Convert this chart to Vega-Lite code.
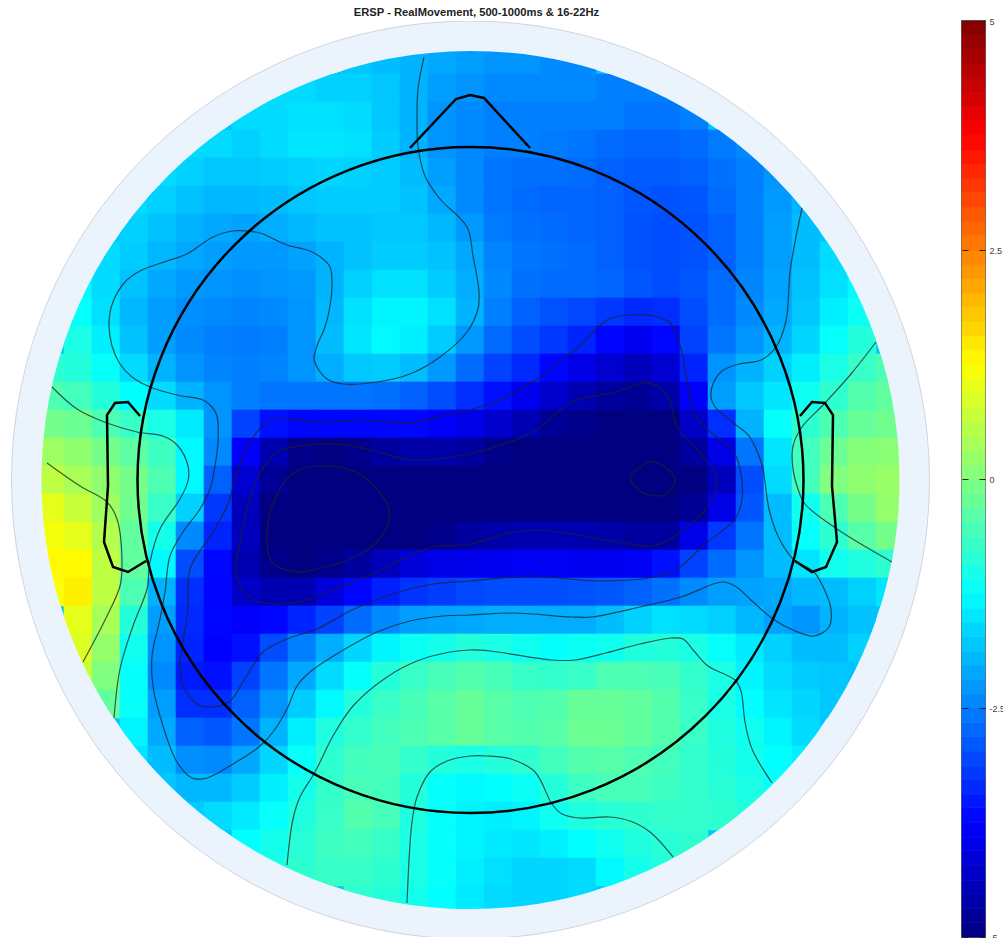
{"$schema":"https://vega.github.io/schema/vega-lite/v6.json","background":"white","padding":{"left":0,"top":6,"right":0,"bottom":0},"spacing":15,"config":{"view":{"stroke":null}},
"datasets":{"center":[{"x":470.5,"y":481}],
"cells":[
{"x":358,"y":61,"v":-1.8},{"x":386,"y":61,"v":-1.9},{"x":414,"y":61,"v":-2.0},{"x":442,"y":61,"v":-2.1},{"x":470,"y":61,"v":-2.2},{"x":498,"y":61,"v":-2.3},{"x":526,"y":61,"v":-2.3},{"x":554,"y":61,"v":-2.4},{"x":582,"y":61,"v":-2.4},
{"x":274,"y":89,"v":-1.6},{"x":302,"y":89,"v":-1.6},{"x":330,"y":89,"v":-1.7},{"x":358,"y":89,"v":-1.7},{"x":386,"y":89,"v":-1.8},{"x":414,"y":89,"v":-2.0},{"x":442,"y":89,"v":-2.2},{"x":470,"y":89,"v":-2.3},{"x":498,"y":89,"v":-2.4},{"x":526,"y":89,"v":-2.4},{"x":554,"y":89,"v":-2.4},{"x":582,"y":89,"v":-2.4},{"x":610,"y":89,"v":-2.5},{"x":638,"y":89,"v":-2.5},{"x":666,"y":89,"v":-2.5},
{"x":246,"y":117,"v":-1.6},{"x":274,"y":117,"v":-1.6},{"x":302,"y":117,"v":-1.55},{"x":330,"y":117,"v":-1.55},{"x":358,"y":117,"v":-1.6},{"x":386,"y":117,"v":-1.8},{"x":414,"y":117,"v":-2.0},{"x":442,"y":117,"v":-2.3},{"x":470,"y":117,"v":-2.4},{"x":498,"y":117,"v":-2.5},{"x":526,"y":117,"v":-2.5},{"x":554,"y":117,"v":-2.5},{"x":582,"y":117,"v":-2.5},{"x":610,"y":117,"v":-2.5},{"x":638,"y":117,"v":-2.6},{"x":666,"y":117,"v":-2.6},{"x":694,"y":117,"v":-2.5},
{"x":190,"y":145,"v":-1.6},{"x":218,"y":145,"v":-1.6},{"x":246,"y":145,"v":-1.7},{"x":274,"y":145,"v":-1.6},{"x":302,"y":145,"v":-1.5},{"x":330,"y":145,"v":-1.5},{"x":358,"y":145,"v":-1.55},{"x":386,"y":145,"v":-1.75},{"x":414,"y":145,"v":-2.0},{"x":442,"y":145,"v":-2.3},{"x":470,"y":145,"v":-2.4},{"x":498,"y":145,"v":-2.5},{"x":526,"y":145,"v":-2.5},{"x":554,"y":145,"v":-2.55},{"x":582,"y":145,"v":-2.6},{"x":610,"y":145,"v":-2.7},{"x":638,"y":145,"v":-2.75},{"x":666,"y":145,"v":-2.75},{"x":694,"y":145,"v":-2.7},{"x":722,"y":145,"v":-2.55},{"x":750,"y":145,"v":-2.4},
{"x":162,"y":173,"v":-1.6},{"x":190,"y":173,"v":-1.7},{"x":218,"y":173,"v":-1.8},{"x":246,"y":173,"v":-1.8},{"x":274,"y":173,"v":-1.75},{"x":302,"y":173,"v":-1.7},{"x":330,"y":173,"v":-1.65},{"x":358,"y":173,"v":-1.7},{"x":386,"y":173,"v":-1.75},{"x":414,"y":173,"v":-1.9},{"x":442,"y":173,"v":-2.2},{"x":470,"y":173,"v":-2.4},{"x":498,"y":173,"v":-2.6},{"x":526,"y":173,"v":-2.65},{"x":554,"y":173,"v":-2.65},{"x":582,"y":173,"v":-2.7},{"x":610,"y":173,"v":-2.8},{"x":638,"y":173,"v":-2.85},{"x":666,"y":173,"v":-2.85},{"x":694,"y":173,"v":-2.8},{"x":722,"y":173,"v":-2.65},{"x":750,"y":173,"v":-2.5},{"x":778,"y":173,"v":-2.3},
{"x":134,"y":201,"v":-1.6},{"x":162,"y":201,"v":-1.7},{"x":190,"y":201,"v":-1.85},{"x":218,"y":201,"v":-1.95},{"x":246,"y":201,"v":-1.95},{"x":274,"y":201,"v":-1.9},{"x":302,"y":201,"v":-1.8},{"x":330,"y":201,"v":-1.75},{"x":358,"y":201,"v":-1.75},{"x":386,"y":201,"v":-1.75},{"x":414,"y":201,"v":-1.85},{"x":442,"y":201,"v":-2.1},{"x":470,"y":201,"v":-2.4},{"x":498,"y":201,"v":-2.6},{"x":526,"y":201,"v":-2.7},{"x":554,"y":201,"v":-2.75},{"x":582,"y":201,"v":-2.75},{"x":610,"y":201,"v":-2.8},{"x":638,"y":201,"v":-2.9},{"x":666,"y":201,"v":-2.95},{"x":694,"y":201,"v":-2.9},{"x":722,"y":201,"v":-2.7},{"x":750,"y":201,"v":-2.5},{"x":778,"y":201,"v":-2.25},{"x":806,"y":201,"v":-2.0},
{"x":134,"y":229,"v":-1.7},{"x":162,"y":229,"v":-1.85},{"x":190,"y":229,"v":-2.0},{"x":218,"y":229,"v":-2.1},{"x":246,"y":229,"v":-2.15},{"x":274,"y":229,"v":-2.05},{"x":302,"y":229,"v":-1.95},{"x":330,"y":229,"v":-1.85},{"x":358,"y":229,"v":-1.85},{"x":386,"y":229,"v":-1.8},{"x":414,"y":229,"v":-1.8},{"x":442,"y":229,"v":-1.95},{"x":470,"y":229,"v":-2.25},{"x":498,"y":229,"v":-2.55},{"x":526,"y":229,"v":-2.65},{"x":554,"y":229,"v":-2.7},{"x":582,"y":229,"v":-2.75},{"x":610,"y":229,"v":-2.8},{"x":638,"y":229,"v":-2.95},{"x":666,"y":229,"v":-3.0},{"x":694,"y":229,"v":-2.95},{"x":722,"y":229,"v":-2.8},{"x":750,"y":229,"v":-2.5},{"x":778,"y":229,"v":-2.2},{"x":806,"y":229,"v":-1.9},
{"x":106,"y":257,"v":-1.6},{"x":134,"y":257,"v":-1.75},{"x":162,"y":257,"v":-1.95},{"x":190,"y":257,"v":-2.1},{"x":218,"y":257,"v":-2.2},{"x":246,"y":257,"v":-2.25},{"x":274,"y":257,"v":-2.25},{"x":302,"y":257,"v":-2.15},{"x":330,"y":257,"v":-2.0},{"x":358,"y":257,"v":-1.85},{"x":386,"y":257,"v":-1.75},{"x":414,"y":257,"v":-1.75},{"x":442,"y":257,"v":-1.85},{"x":470,"y":257,"v":-2.1},{"x":498,"y":257,"v":-2.45},{"x":526,"y":257,"v":-2.6},{"x":554,"y":257,"v":-2.65},{"x":582,"y":257,"v":-2.7},{"x":610,"y":257,"v":-2.8},{"x":638,"y":257,"v":-2.95},{"x":666,"y":257,"v":-3.0},{"x":694,"y":257,"v":-2.95},{"x":722,"y":257,"v":-2.8},{"x":750,"y":257,"v":-2.5},{"x":778,"y":257,"v":-2.2},{"x":806,"y":257,"v":-1.9},{"x":834,"y":257,"v":-1.6},
{"x":78,"y":285,"v":-1.3},{"x":106,"y":285,"v":-1.6},{"x":134,"y":285,"v":-1.85},{"x":162,"y":285,"v":-2.1},{"x":190,"y":285,"v":-2.25},{"x":218,"y":285,"v":-2.3},{"x":246,"y":285,"v":-2.35},{"x":274,"y":285,"v":-2.3},{"x":302,"y":285,"v":-2.25},{"x":330,"y":285,"v":-2.0},{"x":358,"y":285,"v":-1.7},{"x":386,"y":285,"v":-1.55},{"x":414,"y":285,"v":-1.55},{"x":442,"y":285,"v":-1.75},{"x":470,"y":285,"v":-2.05},{"x":498,"y":285,"v":-2.4},{"x":526,"y":285,"v":-2.65},{"x":554,"y":285,"v":-2.7},{"x":582,"y":285,"v":-2.7},{"x":610,"y":285,"v":-2.75},{"x":638,"y":285,"v":-2.9},{"x":666,"y":285,"v":-3.0},{"x":694,"y":285,"v":-2.9},{"x":722,"y":285,"v":-2.7},{"x":750,"y":285,"v":-2.45},{"x":778,"y":285,"v":-2.15},{"x":806,"y":285,"v":-1.85},{"x":834,"y":285,"v":-1.55},{"x":862,"y":285,"v":-1.3},
{"x":78,"y":313,"v":-1.2},{"x":106,"y":313,"v":-1.55},{"x":134,"y":313,"v":-1.95},{"x":162,"y":313,"v":-2.2},{"x":190,"y":313,"v":-2.35},{"x":218,"y":313,"v":-2.4},{"x":246,"y":313,"v":-2.45},{"x":274,"y":313,"v":-2.4},{"x":302,"y":313,"v":-2.3},{"x":330,"y":313,"v":-1.95},{"x":358,"y":313,"v":-1.55},{"x":386,"y":313,"v":-1.35},{"x":414,"y":313,"v":-1.35},{"x":442,"y":313,"v":-1.55},{"x":470,"y":313,"v":-2.0},{"x":498,"y":313,"v":-2.5},{"x":526,"y":313,"v":-2.8},{"x":554,"y":313,"v":-2.95},{"x":582,"y":313,"v":-3.05},{"x":610,"y":313,"v":-3.2},{"x":638,"y":313,"v":-3.35},{"x":666,"y":313,"v":-3.3},{"x":694,"y":313,"v":-3.0},{"x":722,"y":313,"v":-2.7},{"x":750,"y":313,"v":-2.4},{"x":778,"y":313,"v":-2.1},{"x":806,"y":313,"v":-1.8},{"x":834,"y":313,"v":-1.4},{"x":862,"y":313,"v":-1.15},
{"x":78,"y":341,"v":-1.0},{"x":106,"y":341,"v":-1.4},{"x":134,"y":341,"v":-1.85},{"x":162,"y":341,"v":-2.2},{"x":190,"y":341,"v":-2.4},{"x":218,"y":341,"v":-2.5},{"x":246,"y":341,"v":-2.55},{"x":274,"y":341,"v":-2.5},{"x":302,"y":341,"v":-2.3},{"x":330,"y":341,"v":-1.9},{"x":358,"y":341,"v":-1.5},{"x":386,"y":341,"v":-1.3},{"x":414,"y":341,"v":-1.4},{"x":442,"y":341,"v":-1.75},{"x":470,"y":341,"v":-2.25},{"x":498,"y":341,"v":-2.7},{"x":526,"y":341,"v":-3.0},{"x":554,"y":341,"v":-3.2},{"x":582,"y":341,"v":-3.4},{"x":610,"y":341,"v":-3.7},{"x":638,"y":341,"v":-3.9},{"x":666,"y":341,"v":-3.7},{"x":694,"y":341,"v":-3.1},{"x":722,"y":341,"v":-2.6},{"x":750,"y":341,"v":-2.3},{"x":778,"y":341,"v":-2.0},{"x":806,"y":341,"v":-1.65},{"x":834,"y":341,"v":-1.2},{"x":862,"y":341,"v":-0.9},
{"x":50,"y":369,"v":-0.8},{"x":78,"y":369,"v":-0.9},{"x":106,"y":369,"v":-1.2},{"x":134,"y":369,"v":-1.6},{"x":162,"y":369,"v":-2.0},{"x":190,"y":369,"v":-2.3},{"x":218,"y":369,"v":-2.45},{"x":246,"y":369,"v":-2.5},{"x":274,"y":369,"v":-2.45},{"x":302,"y":369,"v":-2.3},{"x":330,"y":369,"v":-2.05},{"x":358,"y":369,"v":-1.8},{"x":386,"y":369,"v":-1.75},{"x":414,"y":369,"v":-1.9},{"x":442,"y":369,"v":-2.25},{"x":470,"y":369,"v":-2.7},{"x":498,"y":369,"v":-3.1},{"x":526,"y":369,"v":-3.35},{"x":554,"y":369,"v":-3.7},{"x":582,"y":369,"v":-4.0},{"x":610,"y":369,"v":-4.2},{"x":638,"y":369,"v":-4.4},{"x":666,"y":369,"v":-4.2},{"x":694,"y":369,"v":-3.4},{"x":722,"y":369,"v":-2.3},{"x":750,"y":369,"v":-2.0},{"x":778,"y":369,"v":-1.7},{"x":806,"y":369,"v":-1.4},{"x":834,"y":369,"v":-1.0},{"x":862,"y":369,"v":-0.7},{"x":890,"y":369,"v":-0.5},
{"x":50,"y":397,"v":-0.5},{"x":78,"y":397,"v":-0.6},{"x":106,"y":397,"v":-0.9},{"x":134,"y":397,"v":-1.25},{"x":162,"y":397,"v":-1.6},{"x":190,"y":397,"v":-2.0},{"x":218,"y":397,"v":-2.3},{"x":246,"y":397,"v":-2.5},{"x":274,"y":397,"v":-2.6},{"x":302,"y":397,"v":-2.6},{"x":330,"y":397,"v":-2.6},{"x":358,"y":397,"v":-2.6},{"x":386,"y":397,"v":-2.65},{"x":414,"y":397,"v":-2.8},{"x":442,"y":397,"v":-3.0},{"x":470,"y":397,"v":-3.3},{"x":498,"y":397,"v":-3.6},{"x":526,"y":397,"v":-3.9},{"x":554,"y":397,"v":-4.25},{"x":582,"y":397,"v":-4.5},{"x":610,"y":397,"v":-4.7},{"x":638,"y":397,"v":-4.8},{"x":666,"y":397,"v":-4.6},{"x":694,"y":397,"v":-3.8},{"x":722,"y":397,"v":-2.2},{"x":750,"y":397,"v":-1.8},{"x":778,"y":397,"v":-1.5},{"x":806,"y":397,"v":-1.1},{"x":834,"y":397,"v":-0.8},{"x":862,"y":397,"v":-0.45},{"x":890,"y":397,"v":-0.3},
{"x":50,"y":425,"v":-0.1},{"x":78,"y":425,"v":-0.2},{"x":106,"y":425,"v":-0.5},{"x":134,"y":425,"v":-0.7},{"x":162,"y":425,"v":-1.0},{"x":190,"y":425,"v":-1.45},{"x":218,"y":425,"v":-2.3},{"x":246,"y":425,"v":-3.1},{"x":274,"y":425,"v":-3.6},{"x":302,"y":425,"v":-3.7},{"x":330,"y":425,"v":-3.7},{"x":358,"y":425,"v":-3.7},{"x":386,"y":425,"v":-3.7},{"x":414,"y":425,"v":-3.7},{"x":442,"y":425,"v":-3.8},{"x":470,"y":425,"v":-4.0},{"x":498,"y":425,"v":-4.25},{"x":526,"y":425,"v":-4.5},{"x":554,"y":425,"v":-4.8},{"x":582,"y":425,"v":-4.9},{"x":610,"y":425,"v":-5},{"x":638,"y":425,"v":-5},{"x":666,"y":425,"v":-5},{"x":694,"y":425,"v":-4.3},{"x":722,"y":425,"v":-3.3},{"x":750,"y":425,"v":-2.0},{"x":778,"y":425,"v":-1.2},{"x":806,"y":425,"v":-0.8},{"x":834,"y":425,"v":-0.5},{"x":862,"y":425,"v":-0.25},{"x":890,"y":425,"v":-0.15},
{"x":50,"y":453,"v":0.3},{"x":78,"y":453,"v":0.15},{"x":106,"y":453,"v":-0.1},{"x":134,"y":453,"v":-0.35},{"x":162,"y":453,"v":-0.65},{"x":190,"y":453,"v":-1.3},{"x":218,"y":453,"v":-2.4},{"x":246,"y":453,"v":-3.8},{"x":274,"y":453,"v":-4.5},{"x":302,"y":453,"v":-4.9},{"x":330,"y":453,"v":-5},{"x":358,"y":453,"v":-4.9},{"x":386,"y":453,"v":-4.7},{"x":414,"y":453,"v":-4.6},{"x":442,"y":453,"v":-4.6},{"x":470,"y":453,"v":-4.7},{"x":498,"y":453,"v":-4.9},{"x":526,"y":453,"v":-5},{"x":554,"y":453,"v":-5},{"x":582,"y":453,"v":-5},{"x":610,"y":453,"v":-5},{"x":638,"y":453,"v":-5},{"x":666,"y":453,"v":-5},{"x":694,"y":453,"v":-4.7},{"x":722,"y":453,"v":-4.0},{"x":750,"y":453,"v":-2.6},{"x":778,"y":453,"v":-1.5},{"x":806,"y":453,"v":-0.6},{"x":834,"y":453,"v":-0.2},{"x":862,"y":453,"v":0.05},{"x":890,"y":453,"v":0.1},
{"x":50,"y":481,"v":0.6},{"x":78,"y":481,"v":0.4},{"x":106,"y":481,"v":0.15},{"x":134,"y":481,"v":-0.1},{"x":162,"y":481,"v":-0.5},{"x":190,"y":481,"v":-1.3},{"x":218,"y":481,"v":-2.8},{"x":246,"y":481,"v":-4.2},{"x":274,"y":481,"v":-4.8},{"x":302,"y":481,"v":-5},{"x":330,"y":481,"v":-5},{"x":358,"y":481,"v":-5},{"x":386,"y":481,"v":-5},{"x":414,"y":481,"v":-5},{"x":442,"y":481,"v":-5},{"x":470,"y":481,"v":-5},{"x":498,"y":481,"v":-5},{"x":526,"y":481,"v":-5},{"x":554,"y":481,"v":-5},{"x":582,"y":481,"v":-5},{"x":610,"y":481,"v":-5},{"x":638,"y":481,"v":-5},{"x":666,"y":481,"v":-5},{"x":694,"y":481,"v":-5},{"x":722,"y":481,"v":-4.4},{"x":750,"y":481,"v":-3.0},{"x":778,"y":481,"v":-1.6},{"x":806,"y":481,"v":-0.6},{"x":834,"y":481,"v":0.0},{"x":862,"y":481,"v":0.15},{"x":890,"y":481,"v":0.25},
{"x":50,"y":509,"v":1.0},{"x":78,"y":509,"v":0.7},{"x":106,"y":509,"v":0.3},{"x":134,"y":509,"v":-0.15},{"x":162,"y":509,"v":-0.7},{"x":190,"y":509,"v":-1.7},{"x":218,"y":509,"v":-3.2},{"x":246,"y":509,"v":-4.4},{"x":274,"y":509,"v":-5},{"x":302,"y":509,"v":-5},{"x":330,"y":509,"v":-5},{"x":358,"y":509,"v":-5},{"x":386,"y":509,"v":-5},{"x":414,"y":509,"v":-5},{"x":442,"y":509,"v":-5},{"x":470,"y":509,"v":-5},{"x":498,"y":509,"v":-5},{"x":526,"y":509,"v":-5},{"x":554,"y":509,"v":-5},{"x":582,"y":509,"v":-5},{"x":610,"y":509,"v":-5},{"x":638,"y":509,"v":-5},{"x":666,"y":509,"v":-5},{"x":694,"y":509,"v":-4.8},{"x":722,"y":509,"v":-4.0},{"x":750,"y":509,"v":-2.9},{"x":778,"y":509,"v":-1.9},{"x":806,"y":509,"v":-1.1},{"x":834,"y":509,"v":-0.5},{"x":862,"y":509,"v":-0.1},{"x":890,"y":509,"v":0.2},
{"x":50,"y":537,"v":1.15},{"x":78,"y":537,"v":1.0},{"x":106,"y":537,"v":0.5},{"x":134,"y":537,"v":-0.3},{"x":162,"y":537,"v":-1.05},{"x":190,"y":537,"v":-2.4},{"x":218,"y":537,"v":-3.4},{"x":246,"y":537,"v":-4.4},{"x":274,"y":537,"v":-5},{"x":302,"y":537,"v":-5},{"x":330,"y":537,"v":-5},{"x":358,"y":537,"v":-5},{"x":386,"y":537,"v":-5},{"x":414,"y":537,"v":-5},{"x":442,"y":537,"v":-4.9},{"x":470,"y":537,"v":-4.7},{"x":498,"y":537,"v":-4.6},{"x":526,"y":537,"v":-4.5},{"x":554,"y":537,"v":-4.5},{"x":582,"y":537,"v":-4.55},{"x":610,"y":537,"v":-4.6},{"x":638,"y":537,"v":-4.7},{"x":666,"y":537,"v":-4.7},{"x":694,"y":537,"v":-4.0},{"x":722,"y":537,"v":-3.2},{"x":750,"y":537,"v":-2.6},{"x":778,"y":537,"v":-1.9},{"x":806,"y":537,"v":-1.2},{"x":834,"y":537,"v":-0.8},{"x":862,"y":537,"v":-0.4},{"x":890,"y":537,"v":-0.1},
{"x":50,"y":565,"v":1.3},{"x":78,"y":565,"v":1.3},{"x":106,"y":565,"v":0.6},{"x":134,"y":565,"v":-0.3},{"x":162,"y":565,"v":-1.3},{"x":190,"y":565,"v":-3.0},{"x":218,"y":565,"v":-3.7},{"x":246,"y":565,"v":-4.5},{"x":274,"y":565,"v":-4.9},{"x":302,"y":565,"v":-5},{"x":330,"y":565,"v":-4.9},{"x":358,"y":565,"v":-4.7},{"x":386,"y":565,"v":-4.4},{"x":414,"y":565,"v":-4.1},{"x":442,"y":565,"v":-4.0},{"x":470,"y":565,"v":-3.95},{"x":498,"y":565,"v":-3.9},{"x":526,"y":565,"v":-3.85},{"x":554,"y":565,"v":-3.85},{"x":582,"y":565,"v":-3.9},{"x":610,"y":565,"v":-3.9},{"x":638,"y":565,"v":-3.85},{"x":666,"y":565,"v":-3.6},{"x":694,"y":565,"v":-3.1},{"x":722,"y":565,"v":-2.7},{"x":750,"y":565,"v":-2.3},{"x":778,"y":565,"v":-1.9},{"x":806,"y":565,"v":-1.5},{"x":834,"y":565,"v":-1.1},{"x":862,"y":565,"v":-0.95},{"x":890,"y":565,"v":-0.8},
{"x":50,"y":593,"v":1.2},{"x":78,"y":593,"v":1.4},{"x":106,"y":593,"v":0.6},{"x":134,"y":593,"v":-0.5},{"x":162,"y":593,"v":-2.0},{"x":190,"y":593,"v":-3.3},{"x":218,"y":593,"v":-3.7},{"x":246,"y":593,"v":-4.3},{"x":274,"y":593,"v":-4.5},{"x":302,"y":593,"v":-4.5},{"x":330,"y":593,"v":-4.1},{"x":358,"y":593,"v":-3.7},{"x":386,"y":593,"v":-3.45},{"x":414,"y":593,"v":-3.25},{"x":442,"y":593,"v":-3.15},{"x":470,"y":593,"v":-3.05},{"x":498,"y":593,"v":-3.0},{"x":526,"y":593,"v":-3.0},{"x":554,"y":593,"v":-3.0},{"x":582,"y":593,"v":-2.95},{"x":610,"y":593,"v":-2.9},{"x":638,"y":593,"v":-2.8},{"x":666,"y":593,"v":-2.65},{"x":694,"y":593,"v":-2.4},{"x":722,"y":593,"v":-2.2},{"x":750,"y":593,"v":-2.15},{"x":778,"y":593,"v":-2.1},{"x":806,"y":593,"v":-1.95},{"x":834,"y":593,"v":-1.9},{"x":862,"y":593,"v":-1.7},{"x":890,"y":593,"v":-1.5},
{"x":78,"y":621,"v":1.0},{"x":106,"y":621,"v":0.4},{"x":134,"y":621,"v":-0.9},{"x":162,"y":621,"v":-2.2},{"x":190,"y":621,"v":-3.35},{"x":218,"y":621,"v":-3.7},{"x":246,"y":621,"v":-3.8},{"x":274,"y":621,"v":-3.7},{"x":302,"y":621,"v":-3.4},{"x":330,"y":621,"v":-3.1},{"x":358,"y":621,"v":-2.7},{"x":386,"y":621,"v":-2.4},{"x":414,"y":621,"v":-2.2},{"x":442,"y":621,"v":-2.15},{"x":470,"y":621,"v":-2.1},{"x":498,"y":621,"v":-2.05},{"x":526,"y":621,"v":-2.05},{"x":554,"y":621,"v":-2.05},{"x":582,"y":621,"v":-2.05},{"x":610,"y":621,"v":-1.9},{"x":638,"y":621,"v":-1.7},{"x":666,"y":621,"v":-1.55},{"x":694,"y":621,"v":-1.6},{"x":722,"y":621,"v":-1.7},{"x":750,"y":621,"v":-1.95},{"x":778,"y":621,"v":-2.15},{"x":806,"y":621,"v":-2.3},{"x":834,"y":621,"v":-2.0},{"x":862,"y":621,"v":-1.85},
{"x":78,"y":649,"v":0.9},{"x":106,"y":649,"v":0.2},{"x":134,"y":649,"v":-1.1},{"x":162,"y":649,"v":-2.3},{"x":190,"y":649,"v":-3.4},{"x":218,"y":649,"v":-3.75},{"x":246,"y":649,"v":-3.6},{"x":274,"y":649,"v":-3.0},{"x":302,"y":649,"v":-2.5},{"x":330,"y":649,"v":-2.05},{"x":358,"y":649,"v":-1.65},{"x":386,"y":649,"v":-1.35},{"x":414,"y":649,"v":-1.15},{"x":442,"y":649,"v":-1.05},{"x":470,"y":649,"v":-0.9},{"x":498,"y":649,"v":-1.0},{"x":526,"y":649,"v":-1.1},{"x":554,"y":649,"v":-1.2},{"x":582,"y":649,"v":-1.15},{"x":610,"y":649,"v":-1.1},{"x":638,"y":649,"v":-0.95},{"x":666,"y":649,"v":-0.9},{"x":694,"y":649,"v":-1.0},{"x":722,"y":649,"v":-1.2},{"x":750,"y":649,"v":-1.45},{"x":778,"y":649,"v":-1.7},{"x":806,"y":649,"v":-1.9},{"x":834,"y":649,"v":-1.9},{"x":862,"y":649,"v":-1.7},
{"x":78,"y":677,"v":0.7},{"x":106,"y":677,"v":0},{"x":134,"y":677,"v":-1.2},{"x":162,"y":677,"v":-2.4},{"x":190,"y":677,"v":-3.5},{"x":218,"y":677,"v":-3.6},{"x":246,"y":677,"v":-3.1},{"x":274,"y":677,"v":-2.6},{"x":302,"y":677,"v":-2.1},{"x":330,"y":677,"v":-1.6},{"x":358,"y":677,"v":-1.2},{"x":386,"y":677,"v":-0.9},{"x":414,"y":677,"v":-0.7},{"x":442,"y":677,"v":-0.55},{"x":470,"y":677,"v":-0.45},{"x":498,"y":677,"v":-0.55},{"x":526,"y":677,"v":-0.7},{"x":554,"y":677,"v":-0.75},{"x":582,"y":677,"v":-0.7},{"x":610,"y":677,"v":-0.5},{"x":638,"y":677,"v":-0.5},{"x":666,"y":677,"v":-0.55},{"x":694,"y":677,"v":-0.75},{"x":722,"y":677,"v":-1.0},{"x":750,"y":677,"v":-1.35},{"x":778,"y":677,"v":-1.6},{"x":806,"y":677,"v":-1.75},{"x":834,"y":677,"v":-1.8},{"x":862,"y":677,"v":-1.85},
{"x":106,"y":705,"v":-0.3},{"x":134,"y":705,"v":-1.2},{"x":162,"y":705,"v":-2.2},{"x":190,"y":705,"v":-3.3},{"x":218,"y":705,"v":-3.3},{"x":246,"y":705,"v":-2.8},{"x":274,"y":705,"v":-2.3},{"x":302,"y":705,"v":-1.75},{"x":330,"y":705,"v":-1.3},{"x":358,"y":705,"v":-0.9},{"x":386,"y":705,"v":-0.7},{"x":414,"y":705,"v":-0.55},{"x":442,"y":705,"v":-0.4},{"x":470,"y":705,"v":-0.25},{"x":498,"y":705,"v":-0.4},{"x":526,"y":705,"v":-0.5},{"x":554,"y":705,"v":-0.45},{"x":582,"y":705,"v":-0.25},{"x":610,"y":705,"v":-0.25},{"x":638,"y":705,"v":-0.3},{"x":666,"y":705,"v":-0.45},{"x":694,"y":705,"v":-0.7},{"x":722,"y":705,"v":-1.0},{"x":750,"y":705,"v":-1.25},{"x":778,"y":705,"v":-1.5},{"x":806,"y":705,"v":-1.65},{"x":834,"y":705,"v":-1.8},
{"x":134,"y":733,"v":-1.35},{"x":162,"y":733,"v":-2.1},{"x":190,"y":733,"v":-2.8},{"x":218,"y":733,"v":-2.9},{"x":246,"y":733,"v":-2.6},{"x":274,"y":733,"v":-2.0},{"x":302,"y":733,"v":-1.4},{"x":330,"y":733,"v":-0.95},{"x":358,"y":733,"v":-0.75},{"x":386,"y":733,"v":-0.6},{"x":414,"y":733,"v":-0.5},{"x":442,"y":733,"v":-0.4},{"x":470,"y":733,"v":-0.25},{"x":498,"y":733,"v":-0.4},{"x":526,"y":733,"v":-0.45},{"x":554,"y":733,"v":-0.4},{"x":582,"y":733,"v":-0.2},{"x":610,"y":733,"v":-0.2},{"x":638,"y":733,"v":-0.3},{"x":666,"y":733,"v":-0.45},{"x":694,"y":733,"v":-0.7},{"x":722,"y":733,"v":-0.95},{"x":750,"y":733,"v":-1.1},{"x":778,"y":733,"v":-1.35},{"x":806,"y":733,"v":-1.6},
{"x":134,"y":761,"v":-1.5},{"x":162,"y":761,"v":-1.9},{"x":190,"y":761,"v":-2.35},{"x":218,"y":761,"v":-2.4},{"x":246,"y":761,"v":-2.1},{"x":274,"y":761,"v":-1.65},{"x":302,"y":761,"v":-1.2},{"x":330,"y":761,"v":-0.8},{"x":358,"y":761,"v":-0.6},{"x":386,"y":761,"v":-0.55},{"x":414,"y":761,"v":-0.75},{"x":442,"y":761,"v":-0.9},{"x":470,"y":761,"v":-1.0},{"x":498,"y":761,"v":-0.9},{"x":526,"y":761,"v":-0.8},{"x":554,"y":761,"v":-0.6},{"x":582,"y":761,"v":-0.45},{"x":610,"y":761,"v":-0.4},{"x":638,"y":761,"v":-0.5},{"x":666,"y":761,"v":-0.6},{"x":694,"y":761,"v":-0.75},{"x":722,"y":761,"v":-0.9},{"x":750,"y":761,"v":-1.05},{"x":778,"y":761,"v":-1.25},{"x":806,"y":761,"v":-1.4},
{"x":162,"y":789,"v":-1.8},{"x":190,"y":789,"v":-1.95},{"x":218,"y":789,"v":-1.95},{"x":246,"y":789,"v":-1.75},{"x":274,"y":789,"v":-1.4},{"x":302,"y":789,"v":-1.05},{"x":330,"y":789,"v":-0.75},{"x":358,"y":789,"v":-0.55},{"x":386,"y":789,"v":-0.6},{"x":414,"y":789,"v":-0.9},{"x":442,"y":789,"v":-1.2},{"x":470,"y":789,"v":-1.3},{"x":498,"y":789,"v":-1.25},{"x":526,"y":789,"v":-1.15},{"x":554,"y":789,"v":-0.9},{"x":582,"y":789,"v":-0.65},{"x":610,"y":789,"v":-0.55},{"x":638,"y":789,"v":-0.55},{"x":666,"y":789,"v":-0.65},{"x":694,"y":789,"v":-0.75},{"x":722,"y":789,"v":-0.85},{"x":750,"y":789,"v":-1.0},{"x":778,"y":789,"v":-1.2},
{"x":190,"y":817,"v":-1.75},{"x":218,"y":817,"v":-1.6},{"x":246,"y":817,"v":-1.45},{"x":274,"y":817,"v":-1.2},{"x":302,"y":817,"v":-0.95},{"x":330,"y":817,"v":-0.7},{"x":358,"y":817,"v":-0.45},{"x":386,"y":817,"v":-0.55},{"x":414,"y":817,"v":-0.95},{"x":442,"y":817,"v":-1.2},{"x":470,"y":817,"v":-1.35},{"x":498,"y":817,"v":-1.4},{"x":526,"y":817,"v":-1.35},{"x":554,"y":817,"v":-1.1},{"x":582,"y":817,"v":-0.95},{"x":610,"y":817,"v":-0.85},{"x":638,"y":817,"v":-0.8},{"x":666,"y":817,"v":-0.75},{"x":694,"y":817,"v":-0.75},{"x":722,"y":817,"v":-0.8},{"x":750,"y":817,"v":-0.9},
{"x":246,"y":845,"v":-1.25},{"x":274,"y":845,"v":-1.05},{"x":302,"y":845,"v":-0.85},{"x":330,"y":845,"v":-0.65},{"x":358,"y":845,"v":-0.6},{"x":386,"y":845,"v":-0.7},{"x":414,"y":845,"v":-1.0},{"x":442,"y":845,"v":-1.2},{"x":470,"y":845,"v":-1.35},{"x":498,"y":845,"v":-1.45},{"x":526,"y":845,"v":-1.5},{"x":554,"y":845,"v":-1.4},{"x":582,"y":845,"v":-1.25},{"x":610,"y":845,"v":-1.1},{"x":638,"y":845,"v":-0.95},{"x":666,"y":845,"v":-0.85},{"x":694,"y":845,"v":-0.8},
{"x":274,"y":873,"v":-1.0},{"x":302,"y":873,"v":-0.8},{"x":330,"y":873,"v":-0.7},{"x":358,"y":873,"v":-0.7},{"x":386,"y":873,"v":-0.8},{"x":414,"y":873,"v":-1.0},{"x":442,"y":873,"v":-1.2},{"x":470,"y":873,"v":-1.4},{"x":498,"y":873,"v":-1.55},{"x":526,"y":873,"v":-1.65},{"x":554,"y":873,"v":-1.65},{"x":582,"y":873,"v":-1.6},{"x":610,"y":873,"v":-1.3},{"x":638,"y":873,"v":-1.05},{"x":666,"y":873,"v":-0.95},
{"x":358,"y":901,"v":-0.8},{"x":386,"y":901,"v":-0.9},{"x":414,"y":901,"v":-1.05},{"x":442,"y":901,"v":-1.25},{"x":470,"y":901,"v":-1.45},{"x":498,"y":901,"v":-1.6},{"x":526,"y":901,"v":-1.65},{"x":554,"y":901,"v":-1.65},{"x":582,"y":901,"v":-1.6}
],
"contours":[
{"c":"a","x":424,"y":58},{"c":"a","x":418,"y":90},{"c":"a","x":417,"y":117},{"c":"a","x":418,"y":147},{"c":"a","x":425,"y":177},{"c":"a","x":440,"y":200},{"c":"a","x":467,"y":228},{"c":"a","x":473,"y":257},{"c":"a","x":479,"y":293},{"c":"a","x":478,"y":310},{"c":"a","x":467,"y":333},{"c":"a","x":440,"y":358},{"c":"a","x":410,"y":375},{"c":"a","x":377,"y":383},{"c":"a","x":343,"y":385},{"c":"a","x":327,"y":380},{"c":"a","x":317,"y":368},{"c":"a","x":314,"y":360},{"c":"a","x":317,"y":347},{"c":"a","x":325,"y":328},{"c":"a","x":330,"y":307},{"c":"a","x":332,"y":283},{"c":"a","x":330,"y":268},{"c":"a","x":323,"y":260},{"c":"a","x":310,"y":252},{"c":"a","x":287,"y":246},{"c":"a","x":260,"y":234},{"c":"a","x":247,"y":232},{"c":"a","x":232,"y":232},{"c":"a","x":213,"y":238},{"c":"a","x":187,"y":255},{"c":"a","x":167,"y":262},{"c":"a","x":140,"y":272},{"c":"a","x":125,"y":283},{"c":"a","x":113,"y":303},{"c":"a","x":109,"y":323},{"c":"a","x":112,"y":347},{"c":"a","x":120,"y":365},{"c":"a","x":132,"y":378},{"c":"a","x":150,"y":388},{"c":"a","x":177,"y":396},{"c":"a","x":203,"y":401},{"c":"a","x":212,"y":408},{"c":"a","x":217,"y":417},{"c":"a","x":218,"y":443},{"c":"a","x":215,"y":467},{"c":"a","x":210,"y":490},{"c":"a","x":200,"y":510},{"c":"a","x":183,"y":533},{"c":"a","x":170,"y":557},{"c":"a","x":165,"y":593},{"c":"a","x":160,"y":620},{"c":"a","x":152,"y":657},{"c":"a","x":153,"y":687},{"c":"a","x":163,"y":727},{"c":"a","x":177,"y":763},{"c":"a","x":192,"y":779},{"c":"a","x":207,"y":779},{"c":"a","x":233,"y":765},{"c":"a","x":260,"y":747},{"c":"a","x":273,"y":733},{"c":"a","x":287,"y":710},{"c":"a","x":297,"y":687},{"c":"a","x":310,"y":673},{"c":"a","x":340,"y":653},{"c":"a","x":377,"y":633},{"c":"a","x":410,"y":622},{"c":"a","x":443,"y":617},{"c":"a","x":470,"y":616},{"c":"a","x":514,"y":614},{"c":"a","x":572,"y":618},{"c":"a","x":592,"y":618},{"c":"a","x":640,"y":608},{"c":"a","x":681,"y":598},{"c":"a","x":722,"y":583},{"c":"a","x":735,"y":587},{"c":"a","x":752,"y":602},{"c":"a","x":773,"y":620},{"c":"a","x":793,"y":631},{"c":"a","x":814,"y":637},{"c":"a","x":829,"y":628},{"c":"a","x":831,"y":610},{"c":"a","x":825,"y":592},{"c":"a","x":814,"y":573},{"c":"a","x":793,"y":560},{"c":"a","x":778,"y":537},{"c":"a","x":769,"y":510},{"c":"a","x":763,"y":470},{"c":"a","x":759,"y":457},{"c":"a","x":749,"y":437},{"c":"a","x":732,"y":423},{"c":"a","x":715,"y":408},{"c":"a","x":711,"y":398},{"c":"a","x":713,"y":385},{"c":"a","x":722,"y":372},{"c":"a","x":739,"y":365},{"c":"a","x":761,"y":361},{"c":"a","x":776,"y":348},{"c":"a","x":786,"y":322},{"c":"a","x":790,"y":273},{"c":"a","x":795,"y":243},{"c":"a","x":802,"y":209},
{"c":"b","x":470,"y":411},{"c":"b","x":450,"y":415},{"c":"b","x":410,"y":424},{"c":"b","x":367,"y":421},{"c":"b","x":317,"y":423},{"c":"b","x":285,"y":419},{"c":"b","x":270,"y":422},{"c":"b","x":257,"y":433},{"c":"b","x":245,"y":453},{"c":"b","x":238,"y":470},{"c":"b","x":227,"y":507},{"c":"b","x":213,"y":533},{"c":"b","x":190,"y":570},{"c":"b","x":188,"y":610},{"c":"b","x":180,"y":667},{"c":"b","x":183,"y":687},{"c":"b","x":197,"y":705},{"c":"b","x":213,"y":708},{"c":"b","x":230,"y":702},{"c":"b","x":243,"y":683},{"c":"b","x":263,"y":653},{"c":"b","x":287,"y":640},{"c":"b","x":317,"y":630},{"c":"b","x":350,"y":612},{"c":"b","x":383,"y":598},{"c":"b","x":433,"y":585},{"c":"b","x":470,"y":582},{"c":"b","x":531,"y":577},{"c":"b","x":596,"y":582},{"c":"b","x":654,"y":578},{"c":"b","x":677,"y":570},{"c":"b","x":705,"y":545},{"c":"b","x":735,"y":520},{"c":"b","x":742,"y":500},{"c":"b","x":740,"y":470},{"c":"b","x":732,"y":450},{"c":"b","x":715,"y":437},{"c":"b","x":694,"y":415},{"c":"b","x":688,"y":387},{"c":"b","x":681,"y":350},{"c":"b","x":671,"y":325},{"c":"b","x":654,"y":317},{"c":"b","x":630,"y":316},{"c":"b","x":609,"y":320},{"c":"b","x":596,"y":330},{"c":"b","x":579,"y":348},{"c":"b","x":562,"y":360},{"c":"b","x":545,"y":375},{"c":"b","x":524,"y":388},{"c":"b","x":497,"y":402},{"c":"b","x":470,"y":411},
{"c":"d","x":470,"y":455},{"c":"d","x":413,"y":461},{"c":"d","x":367,"y":450},{"c":"d","x":337,"y":445},{"c":"d","x":300,"y":447},{"c":"d","x":277,"y":453},{"c":"d","x":258,"y":478},{"c":"d","x":248,"y":507},{"c":"d","x":240,"y":543},{"c":"d","x":236,"y":573},{"c":"d","x":242,"y":590},{"c":"d","x":257,"y":602},{"c":"d","x":283,"y":605},{"c":"d","x":310,"y":600},{"c":"d","x":343,"y":587},{"c":"d","x":377,"y":573},{"c":"d","x":413,"y":555},{"c":"d","x":433,"y":548},{"c":"d","x":470,"y":545},{"c":"d","x":514,"y":533},{"c":"d","x":538,"y":531},{"c":"d","x":572,"y":535},{"c":"d","x":616,"y":543},{"c":"d","x":650,"y":547},{"c":"d","x":667,"y":542},{"c":"d","x":688,"y":527},{"c":"d","x":708,"y":507},{"c":"d","x":717,"y":483},{"c":"d","x":715,"y":473},{"c":"d","x":701,"y":455},{"c":"d","x":677,"y":427},{"c":"d","x":669,"y":400},{"c":"d","x":655,"y":386},{"c":"d","x":643,"y":384},{"c":"d","x":616,"y":393},{"c":"d","x":572,"y":403},{"c":"d","x":535,"y":432},{"c":"d","x":504,"y":445},{"c":"d","x":470,"y":455},
{"c":"e","x":300,"y":470},{"c":"e","x":320,"y":467},{"c":"e","x":347,"y":470},{"c":"e","x":367,"y":480},{"c":"e","x":388,"y":507},{"c":"e","x":389,"y":520},{"c":"e","x":377,"y":543},{"c":"e","x":350,"y":560},{"c":"e","x":317,"y":570},{"c":"e","x":297,"y":573},{"c":"e","x":272,"y":563},{"c":"e","x":267,"y":537},{"c":"e","x":272,"y":507},{"c":"e","x":287,"y":480},{"c":"e","x":300,"y":470},
{"c":"f","x":650,"y":462},{"c":"f","x":630,"y":478},{"c":"f","x":640,"y":492},{"c":"f","x":655,"y":497},{"c":"f","x":668,"y":494},{"c":"f","x":675,"y":481},{"c":"f","x":665,"y":468},{"c":"f","x":650,"y":462},
{"c":"g","x":52,"y":388},{"c":"g","x":77,"y":410},{"c":"g","x":107,"y":424},{"c":"g","x":137,"y":433},{"c":"g","x":163,"y":437},{"c":"g","x":178,"y":447},{"c":"g","x":188,"y":467},{"c":"g","x":188,"y":482},{"c":"g","x":180,"y":500},{"c":"g","x":160,"y":530},{"c":"g","x":150,"y":563},{"c":"g","x":147,"y":590},{"c":"g","x":133,"y":627},{"c":"g","x":120,"y":670},{"c":"g","x":114,"y":719},
{"c":"h","x":47,"y":464},{"c":"h","x":80,"y":487},{"c":"h","x":107,"y":503},{"c":"h","x":117,"y":520},{"c":"h","x":122,"y":563},{"c":"h","x":120,"y":587},{"c":"h","x":107,"y":617},{"c":"h","x":83,"y":663},
{"c":"i","x":287,"y":866},{"c":"i","x":293,"y":820},{"c":"i","x":300,"y":798},{"c":"i","x":315,"y":773},{"c":"i","x":333,"y":737},{"c":"i","x":353,"y":707},{"c":"i","x":387,"y":678},{"c":"i","x":417,"y":662},{"c":"i","x":450,"y":653},{"c":"i","x":470,"y":651},{"c":"i","x":490,"y":652},{"c":"i","x":552,"y":661},{"c":"i","x":575,"y":661},{"c":"i","x":606,"y":654},{"c":"i","x":640,"y":645},{"c":"i","x":671,"y":639},{"c":"i","x":683,"y":640},{"c":"i","x":694,"y":652},{"c":"i","x":708,"y":667},{"c":"i","x":735,"y":681},{"c":"i","x":741,"y":692},{"c":"i","x":745,"y":723},{"c":"i","x":752,"y":750},{"c":"i","x":772,"y":784},
{"c":"j","x":407,"y":904},{"c":"j","x":412,"y":823},{"c":"j","x":417,"y":798},{"c":"j","x":430,"y":773},{"c":"j","x":447,"y":762},{"c":"j","x":470,"y":757},{"c":"j","x":487,"y":757},{"c":"j","x":511,"y":760},{"c":"j","x":535,"y":773},{"c":"j","x":552,"y":805},{"c":"j","x":562,"y":815},{"c":"j","x":579,"y":819},{"c":"j","x":609,"y":818},{"c":"j","x":630,"y":822},{"c":"j","x":650,"y":833},{"c":"j","x":673,"y":858},
{"c":"k","x":876,"y":343},{"c":"k","x":851,"y":375},{"c":"k","x":824,"y":405},{"c":"k","x":802,"y":428},{"c":"k","x":793,"y":447},{"c":"k","x":793,"y":470},{"c":"k","x":798,"y":490},{"c":"k","x":805,"y":505},{"c":"k","x":837,"y":530},{"c":"k","x":892,"y":563}
],
"head":[
{"c":"nose","x":410,"y":149},{"c":"nose","x":456,"y":100},{"c":"nose","x":470,"y":96},{"c":"nose","x":484,"y":99},{"c":"nose","x":530,"y":149},
{"c":"left","x":140,"y":417},{"c":"left","x":128,"y":403},{"c":"left","x":115,"y":404},{"c":"left","x":107,"y":416},{"c":"left","x":108,"y":487},{"c":"left","x":104,"y":543},{"c":"left","x":113,"y":568},{"c":"left","x":128,"y":573},{"c":"left","x":146,"y":562},
{"c":"right","x":800,"y":417},{"c":"right","x":812,"y":403},{"c":"right","x":825,"y":404},{"c":"right","x":833,"y":416},{"c":"right","x":832,"y":487},{"c":"right","x":837,"y":543},{"c":"right","x":826,"y":568},{"c":"right","x":812,"y":573},{"c":"right","x":795,"y":562}
],
"bar":[
{"lo":-5,"hi":-4.84,"v":-4.92},{"lo":-4.84,"hi":-4.69,"v":-4.77},{"lo":-4.69,"hi":-4.53,"v":-4.61},{"lo":-4.53,"hi":-4.38,"v":-4.45},{"lo":-4.38,"hi":-4.22,"v":-4.3},{"lo":-4.22,"hi":-4.06,"v":-4.14},{"lo":-4.06,"hi":-3.91,"v":-3.98},{"lo":-3.91,"hi":-3.75,"v":-3.83},{"lo":-3.75,"hi":-3.59,"v":-3.67},{"lo":-3.59,"hi":-3.44,"v":-3.52},{"lo":-3.44,"hi":-3.28,"v":-3.36},{"lo":-3.28,"hi":-3.13,"v":-3.2},{"lo":-3.13,"hi":-2.97,"v":-3.05},{"lo":-2.97,"hi":-2.81,"v":-2.89},{"lo":-2.81,"hi":-2.66,"v":-2.73},{"lo":-2.66,"hi":-2.5,"v":-2.58},{"lo":-2.5,"hi":-2.34,"v":-2.42},{"lo":-2.34,"hi":-2.19,"v":-2.27},{"lo":-2.19,"hi":-2.03,"v":-2.11},{"lo":-2.03,"hi":-1.88,"v":-1.95},{"lo":-1.88,"hi":-1.72,"v":-1.8},{"lo":-1.72,"hi":-1.56,"v":-1.64},{"lo":-1.56,"hi":-1.41,"v":-1.48},{"lo":-1.41,"hi":-1.25,"v":-1.33},{"lo":-1.25,"hi":-1.09,"v":-1.17},{"lo":-1.09,"hi":-0.94,"v":-1.02},{"lo":-0.94,"hi":-0.78,"v":-0.86},{"lo":-0.78,"hi":-0.63,"v":-0.7},{"lo":-0.63,"hi":-0.47,"v":-0.55},{"lo":-0.47,"hi":-0.31,"v":-0.39},{"lo":-0.31,"hi":-0.16,"v":-0.23},{"lo":-0.16,"hi":0,"v":-0.08},
{"lo":0,"hi":0.16,"v":0.08},{"lo":0.16,"hi":0.31,"v":0.23},{"lo":0.31,"hi":0.47,"v":0.39},{"lo":0.47,"hi":0.63,"v":0.55},{"lo":0.63,"hi":0.78,"v":0.7},{"lo":0.78,"hi":0.94,"v":0.86},{"lo":0.94,"hi":1.09,"v":1.02},{"lo":1.09,"hi":1.25,"v":1.17},{"lo":1.25,"hi":1.41,"v":1.33},{"lo":1.41,"hi":1.56,"v":1.48},{"lo":1.56,"hi":1.72,"v":1.64},{"lo":1.72,"hi":1.88,"v":1.8},{"lo":1.88,"hi":2.03,"v":1.95},{"lo":2.03,"hi":2.19,"v":2.11},{"lo":2.19,"hi":2.34,"v":2.27},{"lo":2.34,"hi":2.5,"v":2.42},{"lo":2.5,"hi":2.66,"v":2.58},{"lo":2.66,"hi":2.81,"v":2.73},{"lo":2.81,"hi":2.97,"v":2.89},{"lo":2.97,"hi":3.13,"v":3.05},{"lo":3.13,"hi":3.28,"v":3.2},{"lo":3.28,"hi":3.44,"v":3.36},{"lo":3.44,"hi":3.59,"v":3.52},{"lo":3.59,"hi":3.75,"v":3.67},{"lo":3.75,"hi":3.91,"v":3.83},{"lo":3.91,"hi":4.06,"v":3.98},{"lo":4.06,"hi":4.22,"v":4.14},{"lo":4.22,"hi":4.38,"v":4.3},{"lo":4.38,"hi":4.53,"v":4.45},{"lo":4.53,"hi":4.69,"v":4.61},{"lo":4.69,"hi":4.84,"v":4.77},{"lo":4.84,"hi":5,"v":4.92}
]},
"hconcat":[
{"width":945,"height":916,
"title":{"text":"ERSP - RealMovement, 500-1000ms & 16-22Hz","font":"Liberation Sans","fontSize":11.2,"fontWeight":"bold","color":"#222222","anchor":"middle","dx":4,"dy":1,"offset":4},
"encoding":{"x":{"field":"x","type":"quantitative","axis":null,"scale":{"domain":[0,945],"nice":false,"zero":false}},"y":{"field":"y","type":"quantitative","axis":null,"scale":{"domain":[22,938],"nice":false,"zero":false,"reverse":true}}},
"layer":[
{"data":{"name":"center"},"mark":{"type":"point","filled":true,"size":736164,"color":"#00c8ff","opacity":1,"clip":true}},
{"data":{"name":"cells"},"mark":{"type":"rect","width":28.6,"height":28.6,"clip":true},"encoding":{"color":{"field":"v","type":"quantitative","legend":null,"scale":{"domain":[-5,-3.75,-1.25,1.25,3.75,5],"range":["#000080","#0000ff","#00ffff","#ffff00","#ff0000","#800000"],"interpolate":"rgb"}}}},
{"data":{"name":"center"},"mark":{"type":"point","filled":false,"size":788544,"stroke":"#ebf3fd","strokeWidth":30,"opacity":1,"clip":true}},
{"data":{"name":"center"},"mark":{"type":"point","filled":false,"size":842724,"stroke":"#b8bcc4","strokeWidth":0.6,"opacity":1,"clip":true}},
{"data":{"name":"contours"},"mark":{"type":"line","stroke":"#222222","strokeWidth":1.2,"opacity":0.75,"interpolate":"catmull-rom","clip":true},"encoding":{"detail":{"field":"c"},"order":{"value":null}}},
{"data":{"name":"center"},"mark":{"type":"point","filled":false,"size":443556,"stroke":"#000000","strokeWidth":2.5,"opacity":1,"clip":true}},
{"data":{"name":"head"},"mark":{"type":"line","stroke":"#000000","strokeWidth":2.5,"clip":true},"encoding":{"detail":{"field":"c"},"order":{"value":null}}}
]},
{"width":23,"height":916,"view":{"stroke":"#666666","strokeWidth":2},
"data":{"name":"bar"},
"mark":{"type":"rect","strokeWidth":0.7},
"encoding":{
"y":{"field":"lo","type":"quantitative","scale":{"domain":[-5,5],"nice":false,"zero":false},"axis":{"orient":"right","values":[-5,-2.5,0,2.5,5],"labelExpr":"'' + datum.value","title":null,"domain":false,"ticks":false,"labelFont":"Liberation Sans","labelFontSize":9,"labelColor":"#444444","labelPadding":4,"grid":true,"gridColor":"#222222","gridDash":[6,11,6],"gridWidth":1,"zindex":1}},
"y2":{"field":"hi"},
"color":{"field":"v","type":"quantitative","legend":null,"scale":{"domain":[-5,-3.75,-1.25,1.25,3.75,5],"range":["#000080","#0000ff","#00ffff","#ffff00","#ff0000","#800000"],"interpolate":"rgb"}},
"stroke":{"field":"v","type":"quantitative","legend":null,"scale":{"domain":[-5,-3.75,-1.25,1.25,3.75,5],"range":["#000080","#0000ff","#00ffff","#ffff00","#ff0000","#800000"],"interpolate":"rgb"}}
}}
]}
